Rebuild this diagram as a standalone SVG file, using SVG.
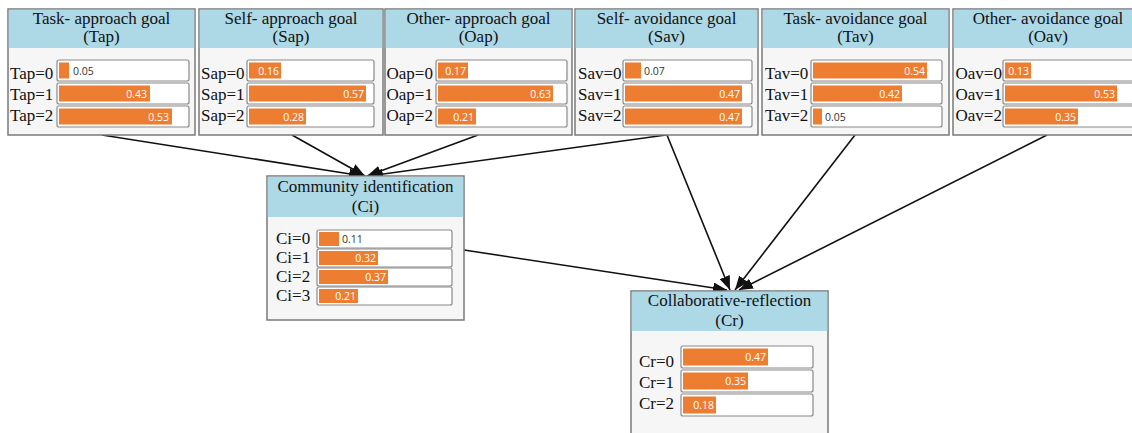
<svg xmlns="http://www.w3.org/2000/svg" width="1132" height="433" viewBox="0 0 1132 433">
<style>
.bg{fill:#ffffff}
.box{fill:#f6f6f6;stroke:#7a7a7a;stroke-width:1.5}
.hdr{fill:#add8e6}
.ttl{font-family:'Liberation Serif','Times New Roman',serif;font-size:17px;fill:#111;text-anchor:middle}
.lbl{font-family:'Liberation Serif','Times New Roman',serif;font-size:17px;fill:#111}
.trk{fill:#ffffff;stroke:#8a8a8a;stroke-width:1.2}
.bar{fill:#ed7d31}
.vin{font-family:'Open Sans',sans-serif;font-size:10.5px;fill:#ffffff;text-anchor:end}
.vout{font-family:'Open Sans',sans-serif;font-size:10.5px;fill:#333333}
.edge{stroke:#111;stroke-width:1.6;fill:none;marker-end:url(#ah)}
</style>
<defs>
<marker id="ah" markerUnits="userSpaceOnUse" markerWidth="15" markerHeight="11" refX="14" refY="5.5" orient="auto">
<path d="M0,0 L14,5.5 L0,11 z" fill="#111"/>
</marker>
</defs>
<rect class="bg" x="0" y="0" width="1132" height="433"/>

<g id="edges">
<path class="edge" d="M102,135 L363,176"/>
<path class="edge" d="M292,135 L365,176"/>
<path class="edge" d="M478,135 L367,176"/>
<path class="edge" d="M666,135 L369,176"/>
<path class="edge" d="M667,135 L730,290"/>
<path class="edge" d="M855,135 L735,290"/>
<path class="edge" d="M1047,135 L739,290"/>
<path class="edge" d="M464,250 L727,290"/>
</g>

<g id="Tap">
<rect class="box" x="8" y="9" width="187" height="126"/>
<rect class="hdr" x="8.75" y="9.75" width="185.5" height="38.25"/>
<text class="ttl" x="101.5" y="24">Task- approach goal</text>
<text class="ttl" x="101.5" y="42">(Tap)</text>
<text class="lbl" x="10" y="79">Tap=0</text>
<text class="lbl" x="10" y="100">Tap=1</text>
<text class="lbl" x="10" y="121">Tap=2</text>
<rect class="trk" x="57" y="60" width="132" height="21" rx="2"/>
<rect class="trk" x="57" y="83" width="132" height="21" rx="2"/>
<rect class="trk" x="57" y="106" width="132" height="21" rx="2"/>
<rect class="bar" x="59" y="62.5" width="10" height="16"/>
<rect class="bar" x="59" y="85.5" width="91" height="16"/>
<rect class="bar" x="59" y="108.5" width="113" height="16"/>
<text class="vout" x="73" y="74.5">0.05</text>
<text class="vin" x="147" y="97.5">0.43</text>
<text class="vin" x="169" y="120.5">0.53</text>
</g>

<g id="Sap">
<rect class="box" x="199" y="9" width="184" height="126"/>
<rect class="hdr" x="199.75" y="9.75" width="182.5" height="38.25"/>
<text class="ttl" x="291" y="24">Self- approach goal</text>
<text class="ttl" x="291" y="42">(Sap)</text>
<text class="lbl" x="201" y="79">Sap=0</text>
<text class="lbl" x="201" y="100">Sap=1</text>
<text class="lbl" x="201" y="121">Sap=2</text>
<rect class="trk" x="247" y="60" width="127" height="21" rx="2"/>
<rect class="trk" x="247" y="83" width="127" height="21" rx="2"/>
<rect class="trk" x="247" y="106" width="127" height="21" rx="2"/>
<rect class="bar" x="249" y="62.5" width="32" height="16"/>
<rect class="bar" x="249" y="85.5" width="117" height="16"/>
<rect class="bar" x="249" y="108.5" width="57" height="16"/>
<text class="vin" x="279" y="74.5">0.16</text>
<text class="vin" x="364" y="97.5">0.57</text>
<text class="vin" x="304" y="120.5">0.28</text>
</g>

<g id="Oap">
<rect class="box" x="385" y="9" width="187" height="126"/>
<rect class="hdr" x="385.75" y="9.75" width="185.5" height="38.25"/>
<text class="ttl" x="478.5" y="24">Other- approach goal</text>
<text class="ttl" x="478.5" y="42">(Oap)</text>
<text class="lbl" x="386.5" y="79">Oap=0</text>
<text class="lbl" x="386.5" y="100">Oap=1</text>
<text class="lbl" x="386.5" y="121">Oap=2</text>
<rect class="trk" x="436" y="60" width="131" height="21" rx="2"/>
<rect class="trk" x="436" y="83" width="131" height="21" rx="2"/>
<rect class="trk" x="436" y="106" width="131" height="21" rx="2"/>
<rect class="bar" x="438" y="62.5" width="30" height="16"/>
<rect class="bar" x="438" y="85.5" width="115" height="16"/>
<rect class="bar" x="438" y="108.5" width="38" height="16"/>
<text class="vin" x="466" y="74.5">0.17</text>
<text class="vin" x="551" y="97.5">0.63</text>
<text class="vin" x="474" y="120.5">0.21</text>
</g>

<g id="Sav">
<rect class="box" x="575" y="9" width="183" height="126"/>
<rect class="hdr" x="575.75" y="9.75" width="181.5" height="38.25"/>
<text class="ttl" x="666.5" y="24">Self- avoidance goal</text>
<text class="ttl" x="666.5" y="42">(Sav)</text>
<text class="lbl" x="578" y="79">Sav=0</text>
<text class="lbl" x="578" y="100">Sav=1</text>
<text class="lbl" x="578" y="121">Sav=2</text>
<rect class="trk" x="623" y="60" width="129" height="21" rx="2"/>
<rect class="trk" x="623" y="83" width="129" height="21" rx="2"/>
<rect class="trk" x="623" y="106" width="129" height="21" rx="2"/>
<rect class="bar" x="625" y="62.5" width="16" height="16"/>
<rect class="bar" x="625" y="85.5" width="117" height="16"/>
<rect class="bar" x="625" y="108.5" width="117" height="16"/>
<text class="vout" x="644" y="74.5">0.07</text>
<text class="vin" x="740" y="97.5">0.47</text>
<text class="vin" x="740" y="120.5">0.47</text>
</g>

<g id="Tav">
<rect class="box" x="762" y="9" width="187" height="126"/>
<rect class="hdr" x="762.75" y="9.75" width="185.5" height="38.25"/>
<text class="ttl" x="855.5" y="24">Task- avoidance goal</text>
<text class="ttl" x="855.5" y="42">(Tav)</text>
<text class="lbl" x="765" y="79">Tav=0</text>
<text class="lbl" x="765" y="100">Tav=1</text>
<text class="lbl" x="765" y="121">Tav=2</text>
<rect class="trk" x="811" y="60" width="131" height="21" rx="2"/>
<rect class="trk" x="811" y="83" width="131" height="21" rx="2"/>
<rect class="trk" x="811" y="106" width="131" height="21" rx="2"/>
<rect class="bar" x="813" y="62.5" width="114" height="16"/>
<rect class="bar" x="813" y="85.5" width="89" height="16"/>
<rect class="bar" x="813" y="108.5" width="9" height="16"/>
<text class="vin" x="925" y="74.5">0.54</text>
<text class="vin" x="900" y="97.5">0.42</text>
<text class="vout" x="825" y="120.5">0.05</text>
</g>

<g id="Oav">
<rect class="box" x="953" y="9" width="190" height="126"/>
<rect class="hdr" x="953.75" y="9.75" width="188.5" height="38.25"/>
<text class="ttl" x="1048" y="24">Other- avoidance goal</text>
<text class="ttl" x="1048" y="42">(Oav)</text>
<text class="lbl" x="955.5" y="79">Oav=0</text>
<text class="lbl" x="955.5" y="100">Oav=1</text>
<text class="lbl" x="955.5" y="121">Oav=2</text>
<rect class="trk" x="1003" y="60" width="134" height="21" rx="2"/>
<rect class="trk" x="1003" y="83" width="134" height="21" rx="2"/>
<rect class="trk" x="1003" y="106" width="134" height="21" rx="2"/>
<rect class="bar" x="1005" y="62.5" width="26" height="16"/>
<rect class="bar" x="1005" y="85.5" width="112" height="16"/>
<rect class="bar" x="1005" y="108.5" width="73" height="16"/>
<text class="vin" x="1029" y="74.5">0.13</text>
<text class="vin" x="1115" y="97.5">0.53</text>
<text class="vin" x="1076" y="120.5">0.35</text>
</g>

<g id="Ci">
<rect class="box" x="267" y="176" width="197" height="144"/>
<rect class="hdr" x="267.75" y="176.75" width="195.5" height="40.25"/>
<text class="ttl" x="365.5" y="192">Community identification</text>
<text class="ttl" x="365.5" y="212">(Ci)</text>
<text class="lbl" x="276" y="244">Ci=0</text>
<text class="lbl" x="276" y="263">Ci=1</text>
<text class="lbl" x="276" y="282">Ci=2</text>
<text class="lbl" x="276" y="301">Ci=3</text>
<rect class="trk" x="317" y="230" width="135" height="18" rx="2"/>
<rect class="trk" x="317" y="249" width="135" height="18" rx="2"/>
<rect class="trk" x="317" y="268" width="135" height="18" rx="2"/>
<rect class="trk" x="317" y="287" width="135" height="18" rx="2"/>
<rect class="bar" x="319" y="232" width="20" height="14"/>
<rect class="bar" x="319" y="251" width="59" height="14"/>
<rect class="bar" x="319" y="270" width="69" height="14"/>
<rect class="bar" x="319" y="289" width="39" height="14"/>
<text class="vout" x="342" y="242.5">0.11</text>
<text class="vin" x="376" y="261.5">0.32</text>
<text class="vin" x="386" y="280.5">0.37</text>
<text class="vin" x="356" y="299.5">0.21</text>
</g>

<g id="Cr">
<rect class="box" x="631" y="291" width="197" height="150"/>
<rect class="hdr" x="631.75" y="291.75" width="195.5" height="39.25"/>
<text class="ttl" x="729.5" y="306">Collaborative-reflection</text>
<text class="ttl" x="729.5" y="326">(Cr)</text>
<text class="lbl" x="639" y="367">Cr=0</text>
<text class="lbl" x="639" y="388">Cr=1</text>
<text class="lbl" x="639" y="409">Cr=2</text>
<rect class="trk" x="681" y="346" width="132" height="22" rx="2"/>
<rect class="trk" x="681" y="370" width="132" height="22" rx="2"/>
<rect class="trk" x="681" y="394" width="132" height="22" rx="2"/>
<rect class="bar" x="683" y="348.5" width="85" height="17"/>
<rect class="bar" x="683" y="372.5" width="65" height="17"/>
<rect class="bar" x="683" y="396.5" width="33" height="17"/>
<text class="vin" x="766" y="360.5">0.47</text>
<text class="vin" x="746" y="384.5">0.35</text>
<text class="vin" x="714" y="408.5">0.18</text>
</g>
</svg>
